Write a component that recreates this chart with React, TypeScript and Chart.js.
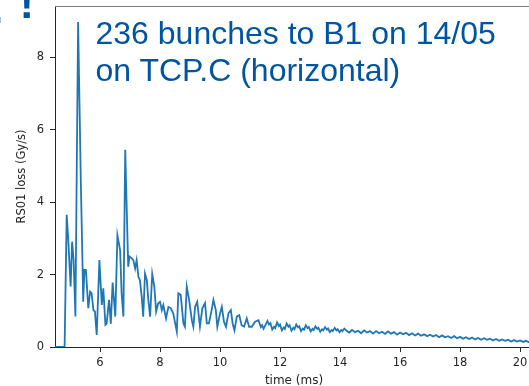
import React, { useEffect, useRef } from "react";
import { Chart, registerables } from "chart.js";

Chart.register(...registerables);

// time axis (ms)
const timeMs: number[] = [
  4.5, 4.82, 4.89, 4.94, 5.02, 5.07, 5.12, 5.18, 5.27, 5.36, 5.42, 5.44, 5.48, 5.53,
  5.61, 5.67, 5.72, 5.78, 5.83, 5.89, 5.98, 6.06, 6.11, 6.18, 6.22, 6.3, 6.36, 6.42,
  6.51, 6.58, 6.67, 6.72, 6.78, 6.84, 6.94, 6.98, 7.06, 7.11, 7.17, 7.22, 7.28, 7.33,
  7.39, 7.44, 7.5, 7.56, 7.61, 7.67, 7.74, 7.81, 7.87, 7.94, 8.0, 8.06, 8.11, 8.2,
  8.28, 8.36, 8.44, 8.56, 8.61, 8.69, 8.78, 8.83, 8.89, 8.97, 9.06, 9.11, 9.17, 9.24,
  9.33, 9.41, 9.5, 9.56, 9.63, 9.72, 9.78, 9.86, 9.91, 10.0, 10.06, 10.13, 10.2, 10.28,
  10.36, 10.42, 10.48, 10.56, 10.64, 10.72, 10.8, 10.89, 10.97, 11.06, 11.17, 11.28,
  11.36, 11.4, 11.45, 11.52, 11.58, 11.63, 11.68, 11.74, 11.8, 11.84,
  11.9, 11.96, 12.0, 12.06, 12.12, 12.16, 12.22, 12.28, 12.32, 12.38,
  12.44, 12.48, 12.54, 12.6, 12.64, 12.7, 12.76, 12.8, 12.86, 12.92,
  12.96, 13.02, 13.08, 13.12, 13.18, 13.24, 13.28, 13.34, 13.4, 13.44,
  13.5, 13.56, 13.6, 13.66, 13.72, 13.76, 13.82, 13.88, 13.92, 13.98,
  14.04, 14.08, 14.14,
  14.2, 14.3, 14.4, 14.5, 14.6, 14.7, 14.8, 14.9, 15.0, 15.1,
  15.2, 15.3, 15.4, 15.5, 15.6, 15.7, 15.8, 15.9, 16.0, 16.1,
  16.2, 16.3, 16.4, 16.5, 16.6, 16.7, 16.8, 16.9, 17.0, 17.1,
  17.2, 17.3, 17.4, 17.5, 17.6, 17.7, 17.8, 17.9, 18.0, 18.1,
  18.2, 18.3, 18.4, 18.5, 18.6, 18.7, 18.8, 18.9, 19.0, 19.1,
  19.2, 19.3, 19.4, 19.5, 19.6, 19.7, 19.8, 19.9, 20.0, 20.1,
  20.2, 20.3, 20.4,
];

// RS01 loss (Gy/s)
const lossGyS: number[] = [
  0, 0, 3.65, 3.0, 1.67, 2.91, 2.4, 0.84, 8.98, 4.6, 2.17, 1.25, 2.13, 2.13,
  1.07, 1.53, 1.48, 1.02, 0.98, 0.33, 2.4, 1.16, 1.62, 0.61, 0.64, 1.3, 0.64, 1.78,
  0.84, 3.09, 2.68, 1.48, 0.84, 5.45, 2.22, 2.5, 2.45, 2.4, 2.17, 2.4, 1.94, 1.85,
  1.39, 0.84, 2.03, 1.85, 1.3, 0.84, 2.02, 1.67, 0.98, 1.21, 1.25, 1.02, 1.16, 0.79,
  1.11, 1.07, 0.93, 0.42, 1.48, 1.44, 0.65, 0.56, 1.67, 1.3, 0.74, 0.56, 1.11, 1.25,
  0.56, 1.07, 1.21, 0.65, 0.65, 1.02, 1.3, 1.02, 0.56, 0.93, 1.11, 0.7, 0.56, 0.93,
  1.02, 0.65, 0.46, 0.84, 0.88, 0.6, 0.56, 0.79, 0.56, 0.56, 0.7, 0.74,
  0.55, 0.6, 0.5, 0.62, 0.72, 0.62, 0.66, 0.48, 0.56, 0.52,
  0.68, 0.58, 0.62, 0.46, 0.54, 0.5, 0.65, 0.56, 0.6, 0.45,
  0.53, 0.49, 0.62, 0.54, 0.57, 0.44, 0.51, 0.48, 0.6, 0.52,
  0.55, 0.43, 0.5, 0.47, 0.57, 0.5, 0.53, 0.42, 0.49, 0.46,
  0.55, 0.48, 0.51, 0.41, 0.47, 0.44, 0.53, 0.46, 0.49, 0.41,
  0.47, 0.44, 0.51,
  0.46, 0.4, 0.47, 0.41, 0.45, 0.38, 0.46, 0.4, 0.44, 0.37,
  0.44, 0.38, 0.42, 0.36, 0.43, 0.37, 0.41, 0.34, 0.4, 0.35,
  0.39, 0.33, 0.38, 0.32, 0.37, 0.31, 0.35, 0.3, 0.34, 0.29,
  0.33, 0.27, 0.32, 0.27, 0.3, 0.25, 0.3, 0.24, 0.28, 0.23,
  0.27, 0.22, 0.26, 0.21, 0.25, 0.2, 0.24, 0.2, 0.23, 0.18,
  0.22, 0.17, 0.21, 0.17, 0.2, 0.15, 0.19, 0.15, 0.18, 0.14,
  0.17, 0.13, 0.16,
];

const xTicks: number[] = [6, 8, 10, 12, 14, 16, 18, 20];
const yTicks: number[] = [0, 2, 4, 6, 8];

const annotationLines: string[] = ["236 bunches to B1 on 14/05", "on TCP.C (horizontal)"];

const TICK_FONT = { family: "'DejaVu Sans', sans-serif", size: 11.5 };
const TEXT_COLOR = "#262626";

const topSpine = {
  id: "topSpine",
  afterDraw(chart: any) {
    const { ctx, chartArea } = chart;
    ctx.save();
    ctx.strokeStyle = "#7a7a7a";
    ctx.lineWidth = 1;
    ctx.beginPath();
    ctx.moveTo(chartArea.left, chartArea.top + 0.5);
    ctx.lineTo(chartArea.right, chartArea.top + 0.5);
    ctx.stroke();
    ctx.restore();
  },
};

export default function App() {
  const ref = useRef<HTMLCanvasElement | null>(null);

  useEffect(() => {
    if (!ref.current) return;
    const chart = new Chart(ref.current, {
      type: "line",
      data: {
        datasets: [
          {
            data: timeMs.map((x, i) => ({ x, y: lossGyS[i] })),
            borderColor: "#1f77b4",
            borderWidth: 1.8,
            pointRadius: 0,
            fill: false,
            tension: 0,
          },
        ],
      },
      options: {
        animation: false,
        responsive: false,
        events: [],
        plugins: { legend: { display: false }, tooltip: { enabled: false } },
        layout: { padding: { top: 6, right: 4, left: 0, bottom: 0 } },
        scales: {
          x: {
            type: "linear",
            min: 4.5,
            max: 20.43,
            afterBuildTicks: (s: any) => {
              s.ticks = xTicks.map((v) => ({ value: v }));
            },
            afterFit: (s: any) => {
              s.height = 39;
              s.paddingLeft = 0;
              s.paddingRight = 0;
            },
            grid: {
              display: true,
              drawOnChartArea: false,
              drawTicks: true,
              tickLength: 5,
              color: TEXT_COLOR,
            },
            border: { display: true, color: TEXT_COLOR, width: 1 },
            ticks: {
              color: TEXT_COLOR,
              font: TICK_FONT,
              padding: 4,
              maxRotation: 0,
              autoSkip: false,
              callback: (v: any) => String(v),
            },
            title: {
              display: true,
              text: "time (ms)",
              color: TEXT_COLOR,
              font: { family: "'DejaVu Sans', sans-serif", size: 12 },
              padding: { top: 0, bottom: -2.5 },
            },
          },
          y: {
            type: "linear",
            min: 0,
            max: 9.42,
            afterBuildTicks: (s: any) => {
              s.ticks = yTicks.map((v) => ({ value: v }));
            },
            afterFit: (s: any) => {
              s.width = 55;
              s.paddingTop = 0;
              s.paddingBottom = 0;
            },
            grid: {
              display: true,
              drawOnChartArea: false,
              drawTicks: true,
              tickLength: 5,
              color: TEXT_COLOR,
            },
            border: { display: true, color: TEXT_COLOR, width: 1 },
            ticks: {
              color: TEXT_COLOR,
              font: TICK_FONT,
              padding: 6,
              autoSkip: false,
              callback: (v: any) => String(v),
            },
            title: {
              display: true,
              text: "RS01 loss (Gy/s)",
              color: TEXT_COLOR,
              font: { family: "'DejaVu Sans', sans-serif", size: 11.5 },
              padding: { top: 15, bottom: 0 },
            },
          },
        },
      },
      plugins: [topSpine],
    });
    return () => chart.destroy();
  }, []);

  return (
    <div
      style={{
        position: "absolute",
        left: 0,
        top: 0,
        width: 529,
        height: 386,
        overflow: "hidden",
        background: "#ffffff",
      }}
    >
      <canvas ref={ref} width={537} height={386} style={{ width: 537, height: 386, display: "block" }} />
      <span
        style={{
          position: "absolute",
          left: -8,
          top: -11,
          font: "bold 40px 'Liberation Sans', Arial, sans-serif",
          lineHeight: "40px",
          color: "#0055a2",
          whiteSpace: "pre",
        }}
      >
        .
      </span>
      <span
        style={{
          position: "absolute",
          left: 19.5,
          top: -19,
          font: "bold 44px 'Liberation Sans', Arial, sans-serif",
          lineHeight: "44px",
          color: "#0055a2",
          whiteSpace: "pre",
        }}
      >
        !
      </span>
      <div
        style={{
          position: "absolute",
          left: 95.5,
          top: 15.4,
          font: "32px 'Liberation Sans', Arial, sans-serif",
          lineHeight: "37px",
          color: "#0055a2",
          whiteSpace: "pre",
        }}
      >
        {annotationLines.map((t) => (
          <div key={t}>{t}</div>
        ))}
      </div>
    </div>
  );
}
